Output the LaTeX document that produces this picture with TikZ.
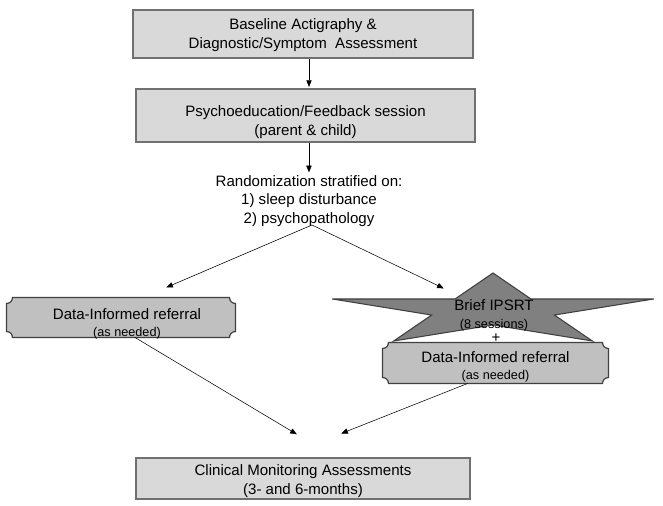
\documentclass[tikz,border=0pt]{standalone}
\usepackage{fontspec}
\setmainfont{Liberation Sans}
\usetikzlibrary{arrows.meta,backgrounds,positioning}

\definecolor{boxgray}{HTML}{D9D9D9}
\definecolor{boxedge}{HTML}{707070}
\definecolor{plaquegray}{HTML}{C0C0C0}
\definecolor{plaqueedge}{HTML}{404040}
\definecolor{stargray}{HTML}{808080}
\definecolor{staredge}{HTML}{404040}

\newcommand{\mainsize}{\fontsize{11.3}{14}\selectfont}
\newcommand{\smallsize}{\fontsize{9.5}{11}\selectfont}

% outline with concave corners round a named node
\newcommand{\plaqueoutline}[1]{%
  \draw[plaque line] ([xshift=4.5pt]#1.north west) -- ([xshift=-4.5pt]#1.north east)
    arc[start angle=180,end angle=270,radius=4.5pt] -- ([yshift=4.5pt]#1.south east)
    arc[start angle=90,end angle=180,radius=4.5pt] -- ([xshift=4.5pt]#1.south west)
    arc[start angle=0,end angle=90,radius=4.5pt] -- ([yshift=-4.5pt]#1.north west)
    arc[start angle=270,end angle=360,radius=4.5pt] -- cycle;}

\begin{document}
\begin{tikzpicture}[x=0.75pt,y=0.75pt,>={Triangle[length=5pt,width=4pt]},line width=0.75pt,
    flow box/.style={draw=boxedge,fill=boxgray,line width=1.1pt,inner sep=0pt},
    plaque node/.style={inner sep=0pt},
    label text/.style={align=center,font=\mainsize,inner sep=0pt},
    plaque line/.style={draw=plaqueedge,fill=plaquegray,line width=0.9pt},
    ipsrt star/.style={draw=staredge,fill=stargray,line width=0.8pt,line join=miter},
    flow arrow/.style={->,shorten >=1pt}]
  \useasboundingbox (0,0) rectangle (663,506);

  % boxes
  \node[flow box,minimum width=255pt,minimum height=36pt] (baseline) at (303,472) {};
  \node[flow box,minimum width=254pt,minimum height=39.75pt] (psyedu) at (305.5,390.5) {};
  \node[flow box,minimum width=250.5pt,minimum height=30.75pt] (monitor) at (303,27.5) {};
  \node[plaque node,minimum width=171pt,minimum height=29.25pt] (leftref) at (121,188.5) {};
  \node[plaque node,minimum width=168.75pt,minimum height=30pt] (rightref) at (495.5,143) {};

  \begin{pgfonlayer}{background}
    \draw[ipsrt star] (493,233) \foreach \i [evaluate=\i as \r using {ifthenelse(mod(\i,2)==0,1,0.382)},
        evaluate=\i as \a using {90+36*\i}] in {1,...,9}
        {-- ({493+169*\r*cos(\a)},{195.4+37.6*\r*sin(\a)})} -- cycle;
    \plaqueoutline{leftref}
    \plaqueoutline{rightref}
  \end{pgfonlayer}

  % texts
  \node[label text] (baseline text) at (303,471) {Baseline Actigraphy \&\\Diagnostic/Symptom\ \ Assessment};
  \node[label text] (psyedu text) at (305.5,384) {Psychoeducation/Feedback session\\(parent \& child)};
  \node[label text,inner sep=1pt] (random) at (309,305)
    {Randomization stratified on:\\1) sleep disturbance\\2) psychopathology};
  \node[label text] (leftref text) at (127,182) {Data-Informed referral\\[-1pt]{\smallsize (as needed)}};
  \node[label text] (ipsrt) at (494,190.5) {Brief IPSRT\\[-1pt]{\smallsize (8 sessions)}};
  \node[label text] (plus) at (496,168) {+};
  \node[label text] (rightref text) at (495.5,139) {Data-Informed referral\\[-1pt]{\smallsize (as needed)}};
  \node[label text] (monitor text) at (303,25) {Clinical Monitoring Assessments\\(3- and 6-months)};

  \coordinate (split) at (312,281);
  \coordinate (lefttip) at (165,218);
  \coordinate (righttip) at (445,217);
  \coordinate (meetl) at (298,71);
  \coordinate (meetr) at (340,72);

  \draw[flow arrow] ([xshift=4.5pt]baseline.south) coordinate (b1) -- (b1 |- psyedu.north);
  \draw[flow arrow] ([xshift=2.6pt]psyedu.south) coordinate (b2) -- (b2 |- random.north);
  \draw[flow arrow] (split) -- (lefttip);
  \draw[flow arrow] (split) -- (righttip);
  \draw[flow arrow] ([xshift=10.5pt]leftref.south) -- (meetl);
  \draw[flow arrow] ([xshift=-21pt]rightref.south) -- (meetr);
\end{tikzpicture}
\end{document}
